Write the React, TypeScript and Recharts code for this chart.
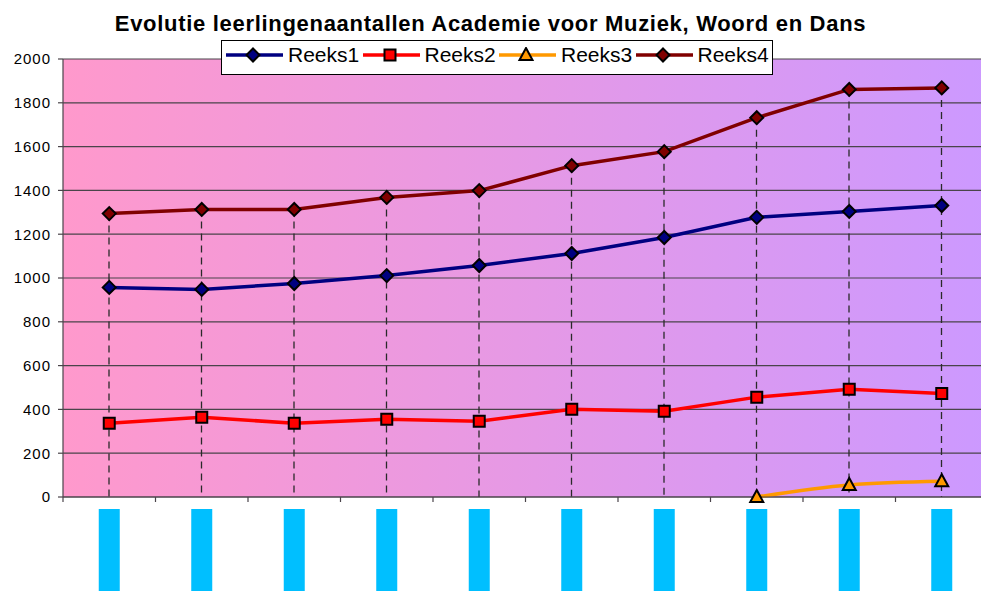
import React from 'react';
import { ComposedChart, Line, Bar, XAxis, YAxis, CartesianGrid, Legend } from 'recharts';

const categories = ['C1', 'C2', 'C3', 'C4', 'C5', 'C6', 'C7', 'C8', 'C9', 'C10'];
const reeks1 = [957, 948, 975, 1011, 1057, 1112, 1185, 1277, 1304, 1331];
const reeks2 = [337, 364, 337, 355, 346, 401, 392, 456, 492, 473];
const reeks3: (number | null)[] = [null, null, null, null, null, null, null, 0, 55, 72];
const reeks4 = [1294, 1313, 1313, 1368, 1399, 1513, 1577, 1732, 1861, 1868];
const yTicks = [0, 200, 400, 600, 800, 1000, 1200, 1400, 1600, 1800, 2000];

const data = categories.map((c, i) => ({
  cat: c,
  r1: reeks1[i],
  r2: reeks2[i],
  r3: reeks3[i],
  r4: reeks4[i],
}));

const FONT = '"Liberation Sans", Arial, sans-serif';

type Shape = 'diamond' | 'square' | 'triangle';

const markerPath = (shape: Shape, cx: number, cy: number) => {
  if (shape === 'diamond') {
    const r = 6.5;
    return `M${cx},${cy - r}L${cx + r},${cy}L${cx},${cy + r}L${cx - r},${cy}Z`;
  }
  if (shape === 'square') {
    const r = 5.5;
    return `M${cx - r},${cy - r}H${cx + r}V${cy + r}H${cx - r}Z`;
  }
  return `M${cx},${cy - 7}L${cx + 6.5},${cy + 5}H${cx - 6.5}Z`;
};

const makeDot = (shape: Shape, fill: string) => (props: any) => {
  const { cx, cy, index, value } = props;
  if (cx == null || cy == null || value == null) return <g key={`e-${index}`} />;
  return (
    <path
      key={`d-${index}`}
      d={markerPath(shape, cx, cy)}
      fill={fill}
      stroke="#000"
      strokeWidth={2}
      strokeLinejoin="miter"
    />
  );
};

const series = [
  { key: 'r1', name: 'Reeks1', color: '#000080', shape: 'diamond' as Shape, fill: '#000080' },
  { key: 'r2', name: 'Reeks2', color: '#FF0000', shape: 'square' as Shape, fill: '#FF0000' },
  { key: 'r3', name: 'Reeks3', color: '#FF9900', shape: 'triangle' as Shape, fill: '#FF9900' },
  { key: 'r4', name: 'Reeks4', color: '#800000', shape: 'diamond' as Shape, fill: '#800000' },
];

const DropLine = (props: any) => {
  const { x, y, width, height } = props;
  if (x == null || y == null) return <g />;
  const cx = x + width / 2;
  return (
    <line
      x1={cx}
      y1={y}
      x2={cx}
      y2={y + height}
      stroke="#2a2a2a"
      strokeWidth={1.3}
      strokeDasharray="7 5"
    />
  );
};

const CatTick = (props: any) => {
  const { x, y, payload, index, visibleTicksCount } = props;
  const off = payload && payload.offset ? payload.offset : 46.25;
  return (
    <g>
      <line x1={x - off} y1={y} x2={x - off} y2={y + 5} stroke="#4a444a" strokeWidth={1.2} />
      {index === visibleTicksCount - 1 && (
        <line x1={x + off} y1={y} x2={x + off} y2={y + 5} stroke="#4a444a" strokeWidth={1.2} />
      )}
      <rect x={x - 10.5} y={y + 12} width={21} height={88} fill="#00BFFF" />
    </g>
  );
};

const LegendBox = () => (
  <div
    style={{
      boxSizing: 'border-box',
      width: 552,
      height: 35,
      border: '1px solid #000',
      background: '#fff',
      display: 'flex',
      alignItems: 'center',
      paddingLeft: 4,
      paddingBottom: 6,
      fontFamily: FONT,
      fontSize: 21,
      lineHeight: '21px',
      color: '#000',
    }}
  >
    {series.map((s) => (
      <div key={s.key} style={{ display: 'flex', alignItems: 'center', width: 137.5 }}>
        <svg width={57} height={16} style={{ display: 'block' }}>
          <line x1={0} y1={8} x2={57} y2={8} stroke={s.color} strokeWidth={3.5} />
          <path d={markerPath(s.shape, 27, 8)} fill={s.fill} stroke="#000" strokeWidth={2} />
        </svg>
        <span style={{ marginLeft: 5, whiteSpace: 'nowrap' }}>{s.name}</span>
      </div>
    ))}
  </div>
);

export default function App() {
  return (
    <div
      style={{
        position: 'absolute',
        left: 0,
        top: 0,
        width: 981,
        height: 591,
        overflow: 'hidden',
        background: '#fff',
      }}
    >
      <div
        style={{
          position: 'absolute',
          left: 0,
          top: 13,
          width: 981,
          textAlign: 'center',
          fontFamily: FONT,
          fontWeight: 'bold',
          fontSize: 22,
          letterSpacing: 0.7,
          lineHeight: '22px',
          color: '#000',
          zIndex: 2,
        }}
      >
        Evolutie leerlingenaantallen Academie voor Muziek, Woord en Dans
      </div>
      <ComposedChart
        width={988}
        height={591}
        data={data}
        margin={{ top: 59, right: 0, left: 0, bottom: 0 }}
      >
        <defs>
          <linearGradient id="bg" x1="0" y1="0" x2="1" y2="0">
            <stop offset="0%" stopColor="#FF99CC" />
            <stop offset="100%" stopColor="#CC99FF" />
          </linearGradient>
        </defs>
        <CartesianGrid
          vertical={false}
          stroke="#4a444a"
          strokeWidth={1.2}
          fill="url(#bg)"
          fillOpacity={1}
        />
        <XAxis
          dataKey="cat"
          height={94}
          interval={0}
          tickLine={false}
          tickSize={0}
          tickMargin={0}
          axisLine={{ stroke: '#4a444a', strokeWidth: 1.2 }}
          tick={<CatTick />}
        />
        <YAxis
          width={63}
          domain={[0, 2000]}
          ticks={yTicks}
          interval={0}
          tickSize={5}
          tickMargin={7}
          axisLine={{ stroke: '#4a444a', strokeWidth: 1.2 }}
          tickLine={{ stroke: '#4a444a', strokeWidth: 1.2 }}
          tick={{ fill: '#000', fontSize: 15, fontFamily: FONT, letterSpacing: 1 }}
        />
        <Legend
          verticalAlign="middle"
          align="center"
          layout="horizontal"
          content={() => <LegendBox />}
          wrapperStyle={{ position: 'absolute', top: 40, left: 221, width: 552, height: 35 }}
        />
        <Bar
          dataKey="r4"
          barSize={2}
          shape={<DropLine />}
          legendType="none"
          isAnimationActive={false}
        />
        {series.map((s) => (
          <Line
            key={s.key}
            dataKey={s.key}
            name={s.name}
            type={s.key === 'r3' ? 'monotone' : 'linear'}
            stroke={s.color}
            strokeWidth={3.5}
            dot={makeDot(s.shape, s.fill)}
            activeDot={false}
            connectNulls={false}
            isAnimationActive={false}
          />
        ))}
      </ComposedChart>
    </div>
  );
}
